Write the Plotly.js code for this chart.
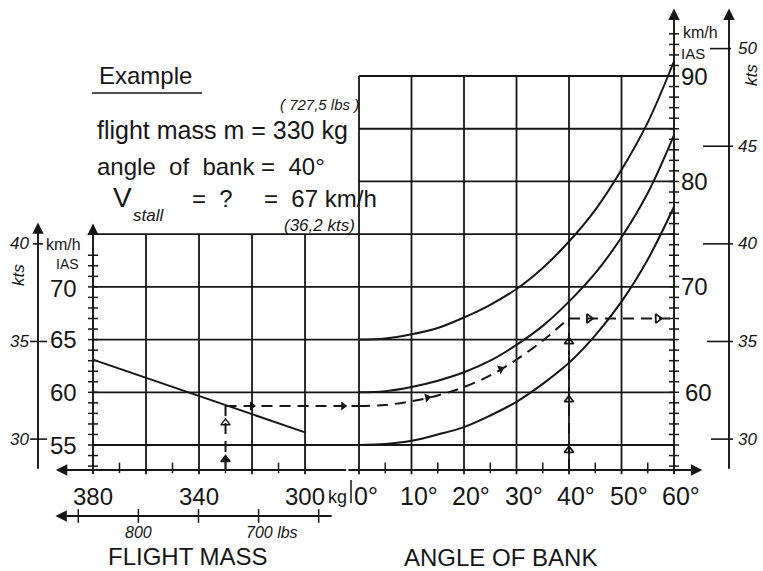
<!DOCTYPE html>
<html><head><meta charset="utf-8">
<script src="https://cdn.plot.ly/plotly-3.0.1.min.js"></script>
<style>html,body{margin:0;padding:0;background:#fff;}#chart{width:763px;height:571px;}</style>
</head><body><div id="chart"></div>
<script>
// ---------------- data ----------------
const massTicks = [380, 370, 360, 350, 340, 330, 320, 310, 300];
const massGrid = [360, 340, 320, 300];
const massLabels = [380, 340, 300];
const lbsTicks = [850, 800, 750, 700, 650];
const lbsLabelValues = [800, 700];
const lbsLabelTexts = ['800', '700 lbs'];
const angleTicks = [0, 5, 10, 15, 20, 25, 30, 35, 40, 45, 50, 55, 60];
const angleGrid = [0, 10, 20, 30, 40, 50];
const angleLabels = [0, 10, 20, 30, 40, 50, 60];
const speedGridBoth = [55, 60, 65, 70, 75];
const speedGridRight = [80, 85, 90];
const speedLabelsLeft = [55, 60, 65, 70];
const speedLabelsRight = [60, 70, 80, 90];
const speedMinorLeft = [53,54,55,56,57,58,59,60,61,62,63,64,65,66,67,68,69,70,71,72,73];
const speedMinorRight = [53,54,55,56,57,58,59,60,61,62,63,64,65,66,67,68,69,70,71,72,73,74,75,76,77,78,79,80,81,82,83,84,85,86,87,88,89,90,91,92,93,94];
const ktsLeft = [30, 35, 40];
const ktsRight = [30, 35, 40, 45, 50];

const massLineMass = [380, 300];
const massLineSpeed = [63.1, 56.2];

const bankAngles = [0, 5, 10, 15, 20, 25, 30, 35, 40, 45, 50, 55, 60];
const stallLow  = [55, 55.1, 55.4, 56.0, 56.7, 57.8, 59.1, 60.8, 62.8, 65.4, 68.6, 72.6, 77.6];
const stallMid  = [60, 60.1, 60.5, 61.1, 61.9, 63.0, 64.5, 66.3, 68.6, 71.3, 74.7, 78.9, 84.4];
const stallHigh = [65, 65.1, 65.5, 66.1, 67.1, 68.3, 69.8, 71.8, 74.3, 77.3, 81.1, 85.6, 91.4];

const exampleMass = 330;
const exampleSpeedAtMass = 58.7;
const exampleAngles = [0, 5, 10, 15, 20, 25, 30, 35, 39];
const exampleSpeeds = [58.7, 58.8, 59.15, 59.7, 60.5, 61.6, 63.1, 64.9, 66.6];
const exampleBank = 40;
const exampleResult = 67;

// ---------------- geometry / scales ----------------
const W = 763, H = 571;
const INK = '#161616';
const Y_RANGE = [43.05, 97.21];
const X_MASS_RANGE = [415.09, 127.2];
const X_ANGLE_RANGE = [-68.38, 76.95];
const X_LBS_RANGE = X_MASS_RANGE.map(v => v * 2.20462);
const Y_KTS_RANGE = Y_RANGE.map(v => v / 1.852);
const AXIS_Y = 52.63;
const LBS_Y = 48.27;
function lin(v, from, to) { return to[0] + (v - from[0]) / (from[1] - from[0]) * (to[1] - to[0]); }
const angleToMass = a => lin(a, X_ANGLE_RANGE, X_MASS_RANGE);
const px = x => x / W, py = y => 1 - y / H;

const FONT = 'Liberation Sans, Arial, sans-serif';

// ---------------- shapes ----------------
const shapes = [];
function seg(xref, x0, x1, yref, y0, y1, w) {
  shapes.push({type: 'line', xref, yref, x0, x1, y0, y1, layer: 'above',
    line: {color: INK, width: w || 1.8}});
}
speedGridBoth.forEach(v => seg('x', 380, angleToMass(60), 'y', v, v));
speedGridRight.forEach(v => seg('x', angleToMass(0), angleToMass(60), 'y', v, v));
massGrid.forEach(m => seg('x', m, m, 'y', AXIS_Y - 0.4, 75));
massTicks.filter(m => massGrid.indexOf(m) < 0 && m !== 380)
  .forEach(m => seg('x', m, m, 'y', AXIS_Y - 0.3, AXIS_Y + 0.7, 1.5));
lbsTicks.forEach(l => seg('x3', l, l, 'y', LBS_Y - 0.65, LBS_Y + 0.65, 1.5));
angleGrid.forEach(a => seg('x2', a, a, 'y', AXIS_Y - 0.4, 90));
angleTicks.filter(a => angleGrid.indexOf(a) < 0 && a !== 60)
  .forEach(a => seg('x2', a, a, 'y', AXIS_Y - 0.3, AXIS_Y + 0.7, 1.5));
speedMinorLeft.forEach(v => seg('x', 381.9, 378.1, 'y', v, v, 1.5));
speedMinorRight.forEach(v => seg('x2', 59.05, 60.95, 'y', v, v, 1.5));
// knots ticks
const ktsLeftTickX = {30: [30, 47], 35: [30, 47], 40: [33, 43]};
ktsLeft.forEach(k => seg('paper', px(ktsLeftTickX[k][0]), px(ktsLeftTickX[k][1]), 'y2', k, k, 1.6));
const ktsRightTickX = {30: [711, 733], 35: [707, 733], 40: [703, 733], 45: [703, 733], 50: [710, 731]};
ktsRight.forEach(k => seg('paper', px(ktsRightTickX[k][0]), px(ktsRightTickX[k][1]), 'y2', k, k, 1.6));
// separator between the two horizontal scales, Example underline
seg('paper', px(351), px(351), 'paper', py(480), py(503), 1.5);
seg('paper', px(92), px(202), 'paper', py(93), py(93), 1.7);

// ---------------- traces ----------------
const traces = [];
traces.push({x: massLineMass, y: massLineSpeed, xaxis: 'x', yaxis: 'y', mode: 'lines',
  line: {color: INK, width: 2}, hoverinfo: 'skip'});
[stallLow, stallMid, stallHigh].forEach(s => traces.push({x: bankAngles, y: s, xaxis: 'x2', yaxis: 'y',
  mode: 'lines', line: {color: INK, width: 2, shape: 'spline'}, hoverinfo: 'skip'}));
const DASH = '11px,7px';
traces.push({x: [exampleMass, exampleMass], y: [AXIS_Y, exampleSpeedAtMass], xaxis: 'x', yaxis: 'y',
  mode: 'lines', line: {color: INK, width: 2, dash: DASH}, hoverinfo: 'skip'});
traces.push({x: [exampleMass, angleToMass(0)], y: [exampleSpeedAtMass, exampleSpeedAtMass], xaxis: 'x', yaxis: 'y',
  mode: 'lines', line: {color: INK, width: 2, dash: DASH}, hoverinfo: 'skip'});
traces.push({x: exampleAngles, y: exampleSpeeds, xaxis: 'x2', yaxis: 'y',
  mode: 'lines', line: {color: INK, width: 2, dash: DASH, shape: 'spline'}, hoverinfo: 'skip'});
traces.push({x: [exampleBank, exampleBank], y: [AXIS_Y, exampleResult], xaxis: 'x2', yaxis: 'y',
  mode: 'lines', line: {color: INK, width: 2, dash: DASH}, hoverinfo: 'skip'});
traces.push({x: [exampleBank, 60], y: [exampleResult, exampleResult], xaxis: 'x2', yaxis: 'y',
  mode: 'lines', line: {color: INK, width: 2, dash: DASH}, hoverinfo: 'skip'});
// arrow heads on the example path
traces.push({x: [exampleMass, exampleMass], y: [AXIS_Y + 1.0, exampleSpeedAtMass - 1.6], xaxis: 'x', yaxis: 'y',
  mode: 'markers', marker: {symbol: ['triangle-up', 'triangle-up-open'], size: 8, color: INK, line: {color: INK, width: 1.5}}, hoverinfo: 'skip'});
traces.push({x: [320, angleToMass(-3)], y: [exampleSpeedAtMass, exampleSpeedAtMass], xaxis: 'x', yaxis: 'y',
  mode: 'markers', marker: {symbol: 'triangle-right', size: 8, color: INK}, hoverinfo: 'skip'});
traces.push({x: [13, 27], y: [59.5, 62.2], xaxis: 'x2', yaxis: 'y',
  mode: 'markers', marker: {symbol: 'triangle-right', size: 8, color: INK, angle: [-12, -22]}, hoverinfo: 'skip'});
traces.push({x: [exampleBank, exampleBank, exampleBank], y: [54.5, 59.3, 64.8], xaxis: 'x2', yaxis: 'y',
  mode: 'markers', marker: {symbol: 'triangle-up-open', size: 8, color: INK, line: {color: INK, width: 1.8}}, hoverinfo: 'skip'});
traces.push({x: [43.8, 56.9], y: [exampleResult, exampleResult], xaxis: 'x2', yaxis: 'y',
  mode: 'markers', marker: {symbol: 'triangle-right-open', size: 8, color: INK, line: {color: INK, width: 1.8}}, hoverinfo: 'skip'});
// dummy traces to register the lbs and kts scales
traces.push({x: [lbsTicks[0]], y: [LBS_Y], xaxis: 'x3', yaxis: 'y', mode: 'markers', marker: {opacity: 0}, hoverinfo: 'skip'});
traces.push({x: [massTicks[0]], y: [ktsLeft[0]], xaxis: 'x', yaxis: 'y2', mode: 'markers', marker: {opacity: 0}, hoverinfo: 'skip'});

// ---------------- annotations ----------------
const ann = [];
function arrow(xref, yref, x, y, ax, ay) {
  ann.push({xref, yref, x, y, ax, ay,
    axref: xref === 'paper' ? 'pixel' : xref, ayref: yref === 'paper' ? 'pixel' : yref,
    showarrow: true, arrowhead: 2, arrowsize: 1.2, arrowwidth: 1.9, arrowcolor: INK,
    text: '', standoff: 0, startstandoff: 0});
}
arrow('x', 'y', 394, AXIS_Y, angleToMass(-2.2) , AXIS_Y);      // mass axis (points left)
arrow('x3', 'y', 869, LBS_Y, 638, LBS_Y);                        // lbs axis
arrow('x2', 'y', 65.4, AXIS_Y, -2.3, AXIS_Y);                    // angle axis (points right)
arrow('x', 'y', 380, 76.0, 380, 52.1);                           // left km/h
arrow('x2', 'y', 60, 96.4, 60, 52.1);                            // right km/h
arrow('paper', 'y2', px(38), 41.1, 0, 28.4);                      // left kts
arrow('paper', 'y2', px(729), 52.05, 0, 28.4);                    // right kts

function txt(text, xref, yref, x, y, size, opts) {
  ann.push(Object.assign({text, xref, yref, x, y, showarrow: false,
    font: {family: FONT, size, color: INK}, xanchor: 'center', yanchor: 'middle'}, opts || {}));
}
massLabels.forEach(m => txt(String(m), 'x', 'y', m, AXIS_Y, 24, {yshift: -26}));
txt('kg', 'paper', 'paper', px(326), py(497), 18, {xanchor: 'left'});
lbsLabelValues.forEach((l, i) => txt('<i>' + lbsLabelTexts[i] + '</i>', 'x3', 'y', l, LBS_Y, 16,
  i === 0 ? {yshift: -17} : {yshift: -17, xanchor: 'left', xshift: -15}));
angleLabels.forEach(a => txt(a + '°', 'x2', 'y', a, AXIS_Y, 25, {yshift: -26, xshift: 7}));
speedLabelsLeft.forEach(v => txt(String(v), 'paper', 'y', px(63), v, 24, v === 70 ? {yshift: -2} : {}));
speedLabelsRight.forEach(v => txt(String(v), 'paper', 'y', px(v === 60 ? 698 : 694), v, 24));
txt('km/h', 'paper', 'paper', px(63), py(244), 16);
txt('IAS', 'paper', 'paper', px(67), py(264), 14);
txt('km/h', 'paper', 'paper', px(700), py(32), 16);
txt('IAS', 'paper', 'paper', px(679), py(54), 15, {xanchor: 'left'});
ktsLeft.forEach(k => txt('<i>' + k + '</i>', 'paper', 'y2', px(19), k, 17));
ktsRight.forEach(k => txt('<i>' + k + '</i>', 'paper', 'y2', px(747), k, 17));
txt('<i>kts</i>', 'paper', 'paper', px(19), py(275), 17, {textangle: -90});
txt('<i>kts</i>', 'paper', 'paper', px(751), py(75), 17, {textangle: -90});
txt('FLIGHT MASS', 'paper', 'paper', px(188), py(556), 24);
txt('ANGLE OF BANK', 'paper', 'paper', px(500), py(557), 24);
// example block
txt('Example', 'paper', 'paper', px(97), py(76), 24, {xanchor: 'left'});
txt('<i>( 727,5 lbs )</i>', 'paper', 'paper', px(278), py(104), 15, {xanchor: 'left'});
txt('flight mass m = 330 kg', 'paper', 'paper', px(95), py(130), 25, {xanchor: 'left'});
txt('angle  of  bank =  40°', 'paper', 'paper', px(95), py(166), 24, {xanchor: 'left'});
txt('V', 'paper', 'paper', px(111), py(197), 28, {xanchor: 'left'});
txt('<i>stall</i>', 'paper', 'paper', px(131), py(216), 17, {xanchor: 'left'});
txt('=  ?', 'paper', 'paper', px(190), py(198), 24, {xanchor: 'left'});
txt('=  67 km/h', 'paper', 'paper', px(262), py(199), 24, {xanchor: 'left'});
txt('<i>(36,2 kts)</i>', 'paper', 'paper', px(282), py(226), 17, {xanchor: 'left'});

const hidden = {visible: false, fixedrange: true};
const layout = {
  width: W, height: H, margin: {l: 0, r: 0, t: 0, b: 0, pad: 0},
  paper_bgcolor: '#fff', plot_bgcolor: '#fff', showlegend: false,
  xaxis: Object.assign({range: X_MASS_RANGE, domain: [0, 1]}, hidden),
  xaxis2: Object.assign({range: X_ANGLE_RANGE, overlaying: 'x'}, hidden),
  xaxis3: Object.assign({range: X_LBS_RANGE, overlaying: 'x'}, hidden),
  yaxis: Object.assign({range: Y_RANGE, domain: [0, 1]}, hidden),
  yaxis2: Object.assign({range: Y_KTS_RANGE, overlaying: 'y'}, hidden),
  shapes, annotations: ann
};
Plotly.newPlot('chart', traces, layout, {staticPlot: true, displayModeBar: false});
</script></body></html>
